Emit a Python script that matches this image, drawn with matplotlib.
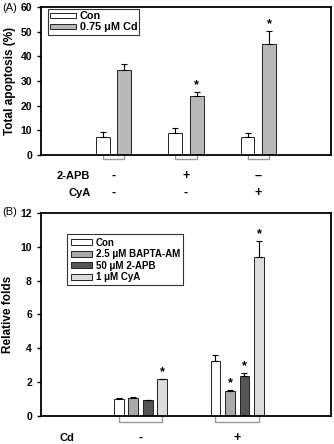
import matplotlib
matplotlib.use("Agg")
import matplotlib.pyplot as plt
import numpy as np

plt.rcParams["font.family"] = ["Liberation Sans", "DejaVu Sans"]
plt.rcParams["font.weight"] = "bold"

# ── panel A data ─────────────────────────────────────────────
a_groups = [1, 2, 3]
a_con = [7.5, 8.8, 7.5]
a_con_err = [1.8, 2.2, 1.5]
a_cd = [34.3, 24.0, 45.0]
a_cd_err = [2.7, 1.5, 5.3]
a_cd_star = [False, True, True]
a_apb = ["-", "+", "\u2013"]
a_cya = ["-", "-", "+"]
a_legend = ["Con", "0.75 \u03bcM Cd"]

# ── panel B data ─────────────────────────────────────────────
b_groups = [1.03, 2.03]
b_labels = ["Con", "2.5 \u03bcM BAPTA-AM", "50 \u03bcM 2-APB", "1 \u03bcM CyA"]
b_colors = ["white", "#a9a9a9", "#555555", "#dcdcdc"]
b_vals = [[1.01, 1.09, 0.97, 2.16],
          [3.25, 1.47, 2.36, 9.42]]
b_err = [[0.07, 0.03, 0.0, 0.05],
         [0.38, 0.05, 0.18, 0.92]]
b_star = [[False, False, False, True],
          [False, True, True, True]]
b_cd = ["-", "+"]

fig = plt.figure(figsize=(3.34, 4.44), dpi=100)
axA = fig.add_axes([0.1228, 0.6509, 0.868, 0.3333])
axB = fig.add_axes([0.1228, 0.0631, 0.868, 0.4572])

for ax in (axA, axB):
    for s in ax.spines.values():
        s.set_linewidth(1.3)
    ax.tick_params(axis="y", labelsize=7.5, width=1, length=3, direction="out")
    ax.tick_params(axis="x", bottom=False, labelbottom=False)
    for t in ax.get_yticklabels():
        t.set_fontweight("bold")

# ── panel A ──────────────────────────────────────────────────
w = 0.19
off = 0.15
x = np.array(a_groups)
axA.bar(x - off, a_con, w, color="white", edgecolor="#222222", linewidth=0.7, label=a_legend[0])
axA.bar(x + off, a_cd, w, color="#b8b8b8", edgecolor="#222222", linewidth=0.7, label=a_legend[1])
axA.errorbar(x - off, a_con, yerr=[np.zeros(3), a_con_err], fmt="none", ecolor="black", elinewidth=0.8, capsize=2.5, capthick=0.8)
axA.errorbar(x + off, a_cd, yerr=[np.zeros(3), a_cd_err], fmt="none", ecolor="black", elinewidth=0.8, capsize=2.5, capthick=0.8)
for xi, v, e, s in zip(x, a_cd, a_cd_err, a_cd_star):
    if s:
        axA.text(xi + off, v + e + 0.5, "*", ha="center", va="bottom", fontsize=9, fontweight="bold")
axA.set_xlim(0, 4)
axA.set_ylim(0, 60)
axA.set_yticks(range(0, 61, 10))
axA.set_ylabel("Total apoptosis (%)", fontsize=8.5, fontweight="bold", labelpad=3)
leg = axA.legend(loc="upper left", bbox_to_anchor=(0.025, 0.985), fontsize=7.8, frameon=True,
                 fancybox=False, edgecolor="black", handlelength=2.4, handleheight=0.35,
                 borderpad=0.2, labelspacing=0.1, handletextpad=0.3, borderaxespad=0)
leg.get_frame().set_linewidth(0.8)

# brackets under groups
for xi in x:
    axA.plot([xi - off, xi - off, xi + off, xi + off], [0, -1.8, -1.8, 0], color="#999999",
             lw=1, clip_on=False, zorder=0)
for xi, p, c in zip(x, a_apb, a_cya):
    axA.text(xi, -8.5, p, ha="center", va="center", fontsize=9, fontweight="bold", clip_on=False)
    axA.text(xi, -15.5, c, ha="center", va="center", fontsize=9, fontweight="bold", clip_on=False)
axA.text(0.68, -8.5, "2-APB", ha="right", va="center", fontsize=8, fontweight="bold")
axA.text(0.68, -15.5, "CyA", ha="right", va="center", fontsize=8, fontweight="bold")
fig.text(0.008, 0.982, "(A)", fontsize=8, fontweight="normal", va="center")

# ── panel B ──────────────────────────────────────────────────
bw = 0.1
step = 0.15
offs = (np.arange(4) - 1.5) * step
for i, lab in enumerate(b_labels):
    xs = np.array(b_groups) + offs[i]
    vals = [b_vals[g][i] for g in range(2)]
    errs = [b_err[g][i] for g in range(2)]
    axB.bar(xs, vals, bw, color=b_colors[i], edgecolor="#222222", linewidth=0.7, label=lab)
    axB.errorbar(xs, vals, yerr=[np.zeros(2), errs], fmt="none", ecolor="black",
                 elinewidth=0.8, capsize=2, capthick=0.8)
    for g in range(2):
        if b_star[g][i]:
            axB.text(xs[g], vals[g] + errs[g] + 0.05, "*", ha="center", va="bottom",
                     fontsize=9, fontweight="bold")
axB.set_xlim(0, 3)
axB.set_ylim(0, 12)
axB.set_yticks(range(0, 13, 2))
axB.set_ylabel("Relative folds", fontsize=8.5, fontweight="bold", labelpad=5)
leg = axB.legend(loc="upper left", bbox_to_anchor=(0.09, 0.895), fontsize=7, frameon=True,
                 fancybox=False, edgecolor="black", handlelength=2.2, handleheight=0.6,
                 borderpad=0.35, labelspacing=0.15, handletextpad=0.4, borderaxespad=0)
leg.get_frame().set_linewidth(0.8)
for g, xi in enumerate(b_groups):
    axB.plot([xi + offs[0], xi + offs[0], xi + offs[3], xi + offs[3]], [0, -0.35, -0.35, 0],
             color="#999999", lw=1, clip_on=False, zorder=0)
    axB.text(xi, -1.3, b_cd[g], ha="center", va="center", fontsize=9, fontweight="bold")
axB.text(0.35, -1.3, "Cd", ha="right", va="center", fontsize=8, fontweight="bold")
fig.text(0.008, 0.522, "(B)", fontsize=8, fontweight="normal", va="center")

fig.savefig("out.png", dpi=100)
